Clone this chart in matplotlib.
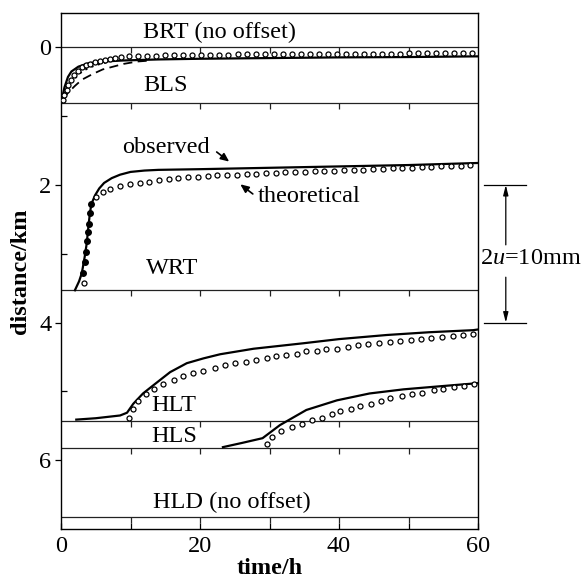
import matplotlib
matplotlib.use("Agg")
import matplotlib.pyplot as plt
from matplotlib.markers import TICKDOWN

plt.rcParams["font.family"] = ["Liberation Serif", "DejaVu Serif"]
plt.rcParams["mathtext.fontset"] = "custom"
plt.rcParams["mathtext.rm"] = "Liberation Serif"
plt.rcParams["mathtext.it"] = "Liberation Serif:italic"

# ---- panel layout (distance axis, km) ----
panel_edges = [0.0, 0.81, 3.52, 5.43, 5.82, 6.82]
edge_ticks = [10, 20, 30, 40, 50]

# ---- BLS ----
bls_obs_t = [0, 0.5, 1.0, 1.5, 2.5, 4, 6, 9, 14, 20, 30, 40, 50, 60]
bls_obs_d = [0.81, 0.58, 0.43, 0.35, 0.28, 0.23, 0.205, 0.19, 0.175, 0.165,
             0.155, 0.145, 0.14, 0.13]
bls_dash_t = [0.3, 1.0, 2.0, 3.0, 4.5, 6.0, 7.5, 9.0, 11.0, 13.0]
bls_dash_d = [0.76, 0.66, 0.56, 0.47, 0.39, 0.32, 0.28, 0.24, 0.205, 0.19]
bls_dot_t = [0.5, 0.8, 1.5, 2.25, 3.0, 3.9, 4.9, 5.9, 7.0]
bls_dot_d = [0.68, 0.57, 0.50, 0.42, 0.35, 0.30, 0.26, 0.23, 0.21]
bls_theo_t = [0.3, 0.5, 0.8, 1.05, 1.45, 1.9, 2.4, 3.0, 3.6, 4.2, 4.9, 5.6,
              6.3, 7.0, 7.8, 8.6, 9.8, 11.1, 12.4, 13.7, 15.0, 16.3, 17.6,
              18.9, 20.2, 21.5, 22.8, 24.1, 25.4, 26.7, 28.0, 29.3, 30.6,
              31.9, 33.2, 34.5, 35.8, 37.1, 38.4, 39.7, 41.0, 42.3, 43.6,
              44.9, 46.2, 47.5, 48.8, 50.1, 51.4, 52.7, 54.0, 55.3, 56.6,
              57.9, 59.2]
bls_theo_d = [0.76, 0.69, 0.62, 0.55, 0.47, 0.40, 0.34, 0.29, 0.255, 0.235,
              0.215, 0.195, 0.18, 0.165, 0.15, 0.14, 0.13, 0.125, 0.12, 0.12,
              0.115, 0.115, 0.11, 0.11, 0.11, 0.105, 0.105, 0.105, 0.10, 0.10,
              0.10, 0.10, 0.10, 0.10, 0.095, 0.095, 0.095, 0.095, 0.095, 0.09,
              0.09, 0.09, 0.09, 0.09, 0.09, 0.09, 0.09, 0.085, 0.085, 0.085,
              0.085, 0.085, 0.085, 0.085, 0.085]

# ---- WRT ----
wrt_obs_t = [2.0, 2.6, 3.0, 3.4, 3.7, 4.0, 4.2, 4.4, 4.9, 5.5, 6.2, 7.3, 8.5,
             10, 12, 14, 20, 30, 40, 50, 60]
wrt_obs_d = [3.53, 3.40, 3.28, 3.05, 2.85, 2.55, 2.38, 2.27, 2.15, 2.05, 1.97,
             1.90, 1.85, 1.81, 1.79, 1.78, 1.77, 1.75, 1.73, 1.71, 1.68]
wrt_fill_t = [3.2, 3.45, 3.6, 3.8, 3.9, 4.05, 4.2, 4.3]
wrt_fill_d = [3.28, 3.12, 2.97, 2.82, 2.68, 2.56, 2.41, 2.28]
wrt_theo_t = [3.35, 5.1, 6.1, 7.1, 8.5, 9.9, 11.3, 12.7, 14.1, 15.5, 16.9,
              18.3, 19.7, 21.1, 22.5, 23.9, 25.3, 26.7, 28.1, 29.5, 30.9, 32.3,
              33.7, 35.1, 36.5, 37.9, 39.3, 40.7, 42.1, 43.5, 44.9, 46.3, 47.7,
              49.1, 50.5, 51.9, 53.3, 54.7, 56.1, 57.5, 58.9]
wrt_theo_d = [3.42, 2.17, 2.10, 2.06, 2.02, 1.99, 1.97, 1.95, 1.93, 1.92, 1.90,
              1.89, 1.88, 1.87, 1.86, 1.855, 1.85, 1.84, 1.835, 1.83, 1.82,
              1.815, 1.81, 1.805, 1.80, 1.795, 1.79, 1.785, 1.78, 1.775, 1.77,
              1.765, 1.76, 1.755, 1.75, 1.745, 1.74, 1.73, 1.725, 1.72, 1.71]

# ---- HLT ----
hlt_obs_t = [2.2, 5, 8.5, 9.5, 10.4, 11.8, 13.3, 15.7, 18.1, 20.5, 22.9, 27.7,
             34.9, 40, 46.9, 53, 59.3, 60]
hlt_obs_d = [5.41, 5.39, 5.35, 5.31, 5.18, 5.03, 4.91, 4.72, 4.59, 4.52, 4.46,
             4.38, 4.30, 4.24, 4.18, 4.14, 4.11, 4.10]
hlt_theo_t = [9.8, 10.3, 11.1, 12.2, 13.4, 14.7, 16.2, 17.6, 19.0, 20.5, 22.1,
              23.6, 25.0, 26.6, 28.1, 29.6, 31.0, 32.4, 33.9, 35.3, 36.8, 38.2,
              39.7, 41.3, 42.8, 44.2, 45.8, 47.3, 48.8, 50.3, 51.8, 53.3, 54.8,
              56.4, 57.8, 59.3]
hlt_theo_d = [5.38, 5.26, 5.14, 5.04, 4.97, 4.89, 4.84, 4.78, 4.73, 4.70, 4.66,
              4.62, 4.59, 4.57, 4.54, 4.51, 4.49, 4.47, 4.45, 4.42, 4.41, 4.39,
              4.38, 4.35, 4.33, 4.31, 4.29, 4.28, 4.27, 4.25, 4.24, 4.23, 4.21,
              4.20, 4.18, 4.17]

# ---- HLS ----
hls_obs_t = [23.3, 26, 29.0, 31.5, 35.3, 39.7, 44.4, 49.3, 54.0, 60]
hls_obs_d = [5.81, 5.75, 5.68, 5.49, 5.27, 5.13, 5.03, 4.97, 4.93, 4.88]
hls_theo_t = [29.6, 30.4, 31.7, 33.2, 34.7, 36.1, 37.5, 39.0, 40.2, 41.7, 43.0,
              44.6, 46.0, 47.4, 49.0, 50.5, 52.0, 53.6, 55.0, 56.5, 58.0, 59.4]
hls_theo_d = [5.77, 5.66, 5.58, 5.52, 5.47, 5.42, 5.38, 5.33, 5.29, 5.25, 5.21,
              5.18, 5.14, 5.10, 5.07, 5.04, 5.02, 4.98, 4.96, 4.94, 4.92, 4.89]

# ---- panel names ----
panel_labels = ["BRT (no offset)", "BLS", "WRT", "HLT", "HLS", "HLD (no offset)"]
panel_label_t = [11.8, 11.8, 12.2, 13.0, 13.0, 13.3]
panel_label_d = [-0.22, 0.55, 3.22, 5.2, 5.65, 6.62]

FS = 17.5
fig = plt.figure(figsize=(5.82, 5.85), dpi=100)
ax = fig.add_axes([61 / 582, 1 - 529 / 585, (478 - 61) / 582, (529 - 13) / 585])
ax.set_xlim(0, 60)
ax.set_ylim(7.0, -0.5)

# panel separators with their own small time ticks
for e in panel_edges:
    ax.axhline(e, color="#222222", lw=0.9, zorder=1)
    ax.plot(edge_ticks, [e] * len(edge_ticks), ls="none", marker=TICKDOWN,
            ms=4, mew=0.9, color="#222222", zorder=1)

line_kw = dict(color="black", lw=1.6, zorder=3)
circ_kw = dict(ls="none", marker="o", ms=3.6, mfc="white", mec="black",
               mew=0.9, zorder=4)

ax.plot(bls_obs_t, bls_obs_d, **line_kw)
ax.plot(bls_dash_t, bls_dash_d, color="black", lw=1.3, ls=(0, (5, 3)), zorder=3)
ax.plot(bls_dot_t, bls_dot_d, color="black", lw=1.6, ls=(0, (1, 2)), zorder=3)
ax.plot(bls_theo_t, bls_theo_d, **circ_kw)

ax.plot(wrt_obs_t, wrt_obs_d, **line_kw)
ax.plot(wrt_theo_t, wrt_theo_d, **circ_kw)
ax.plot(wrt_fill_t, wrt_fill_d, ls="none", marker="o", ms=4, mfc="black",
        mec="black", zorder=5)

ax.plot(hlt_obs_t, hlt_obs_d, **line_kw)
ax.plot(hlt_theo_t, hlt_theo_d, **circ_kw)

ax.plot(hls_obs_t, hls_obs_d, **line_kw)
ax.plot(hls_theo_t, hls_theo_d, **circ_kw)

for name, t, d in zip(panel_labels, panel_label_t, panel_label_d):
    ax.text(t, d, name, fontsize=FS, ha="left", va="center")

# curve annotations
ax.annotate("", xy=(24.2, 1.66), xytext=(22.4, 1.52),
            arrowprops=dict(arrowstyle="-|>,head_length=0.5,head_width=0.22",
                            color="black", lw=1.2, shrinkA=0, shrinkB=0))
ax.text(8.8, 1.46, "observed", fontsize=FS, ha="left", va="center")
ax.annotate("", xy=(25.8, 1.99), xytext=(27.6, 2.13),
            arrowprops=dict(arrowstyle="-|>,head_length=0.5,head_width=0.22",
                            color="black", lw=1.2, shrinkA=0, shrinkB=0))
ax.text(28.3, 2.16, "theoretical", fontsize=FS, ha="left", va="center")

# vertical scale bar to the right of the plot
bar_top, bar_bot = 2.0, 4.0
for yy in (bar_top, bar_bot):
    ax.plot([60.9, 66.9], [yy, yy], color="black", lw=0.9, clip_on=False)
ax.annotate("", xy=(64.0, bar_top), xytext=(64.0, 2.87), annotation_clip=False,
            arrowprops=dict(arrowstyle="-|>,head_length=0.6,head_width=0.15",
                            color="black", lw=0.9, shrinkA=0, shrinkB=0))
ax.annotate("", xy=(64.0, bar_bot), xytext=(64.0, 3.34), annotation_clip=False,
            arrowprops=dict(arrowstyle="-|>,head_length=0.6,head_width=0.15",
                            color="black", lw=0.9, shrinkA=0, shrinkB=0))
ax.text(67.6, 3.07, r"2$u$=10mm", fontsize=FS, ha="center", va="center",
        clip_on=False)

# axes styling
ax.set_xticks([0, 20, 40, 60])
ax.set_xticks([10, 30, 50], minor=True)
ax.set_yticks([0, 2, 4, 6])
ax.set_yticks([1, 3, 5], minor=True)
ax.tick_params(axis="x", which="both", direction="in", length=4, width=0.9,
               labelsize=FS, pad=5)
ax.tick_params(axis="y", which="major", direction="out", length=4, width=0.9,
               labelsize=FS, pad=3)
ax.tick_params(axis="y", which="minor", direction="in", length=4, width=0.9)
for s in ax.spines.values():
    s.set_linewidth(1.0)

ax.set_xlabel("time/h", fontsize=FS, fontweight="bold", labelpad=1)
ax.set_ylabel("distance/km", fontsize=FS, fontweight="bold", labelpad=6)

fig.savefig("out.png", dpi=100)
